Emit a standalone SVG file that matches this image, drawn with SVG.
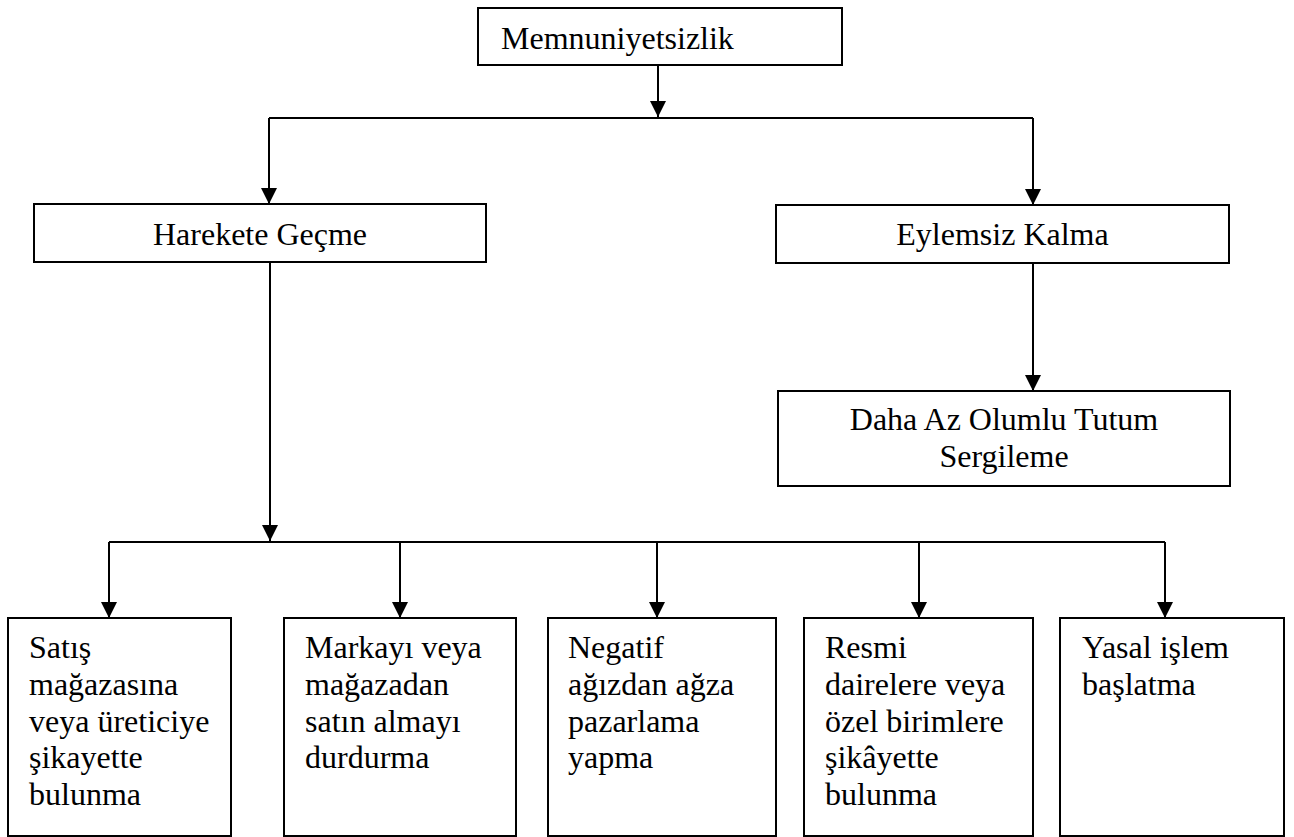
<svg xmlns="http://www.w3.org/2000/svg" width="1294" height="837" viewBox="0 0 1294 837">
  <style>
    .box { fill: #ffffff; stroke: #000000; stroke-width: 2; }
    .lbl { font-size: 32px; fill: #000000; }
    .mid { text-anchor: middle; }
    .wire { fill: none; stroke: #000000; stroke-width: 2; }
    .arrow { fill: none; stroke: #000000; stroke-width: 2; marker-end: url(#head); }
  </style>
  <defs>
    <marker id="head" viewBox="0 0 16 16" refX="16" refY="8" markerWidth="16" markerHeight="16" markerUnits="userSpaceOnUse" orient="auto">
      <path d="M0,0 L16,8 L0,16 Z" fill="#000000"/>
    </marker>
  </defs>
  <rect width="1294" height="837" fill="#ffffff"/>

  <!-- connectors -->
  <g id="connectors">
    <path class="arrow" d="M658,65 V117"/>
    <path class="wire" d="M269,118 H1033"/>
    <path class="arrow" d="M269,118 V204"/>
    <path class="arrow" d="M1033,118 V205"/>
    <path class="arrow" d="M1033,263 V391"/>
    <path class="arrow" d="M270,262 V541"/>
    <path class="wire" d="M109,542 H1165"/>
    <path class="arrow" d="M109,542 V618"/>
    <path class="arrow" d="M400,542 V618"/>
    <path class="arrow" d="M657,542 V618"/>
    <path class="arrow" d="M919,542 V618"/>
    <path class="arrow" d="M1165,542 V618"/>
  </g>

  <g font-family="'Liberation Serif', 'Times New Roman', Tinos, 'DejaVu Serif', serif">
  <!-- top level -->
  <g id="memnuniyetsizlik">
    <rect class="box" x="478" y="8" width="364" height="57"/>
    <text class="lbl" x="501" y="49">Memnuniyetsizlik</text>
  </g>

  <!-- second level -->
  <g id="harekete-gecme">
    <rect class="box" x="34" y="204" width="452" height="58"/>
    <text class="lbl mid" x="260" y="245">Harekete Geçme</text>
  </g>
  <g id="eylemsiz-kalma">
    <rect class="box" x="776" y="205" width="453" height="58"/>
    <text class="lbl mid" x="1002.5" y="245">Eylemsiz Kalma</text>
  </g>
  <g id="daha-az-olumlu">
    <rect class="box" x="778" y="391" width="452" height="95"/>
    <text class="lbl mid" x="1004" y="430">Daha Az Olumlu Tutum</text>
    <text class="lbl mid" x="1004" y="467">Sergileme</text>
  </g>

  <!-- action outcomes -->
  <g id="sikayet-magaza">
    <rect class="box" x="8" y="618" width="223" height="218"/>
    <text class="lbl" x="29" y="658">Satış</text>
    <text class="lbl" x="29" y="695">mağazasına</text>
    <text class="lbl" x="29" y="732">veya üreticiye</text>
    <text class="lbl" x="29" y="768">şikayette</text>
    <text class="lbl" x="29" y="805">bulunma</text>
  </g>
  <g id="satin-almayi-durdurma">
    <rect class="box" x="284" y="618" width="232" height="218"/>
    <text class="lbl" x="305" y="658">Markayı veya</text>
    <text class="lbl" x="305" y="695">mağazadan</text>
    <text class="lbl" x="305" y="732">satın almayı</text>
    <text class="lbl" x="305" y="768">durdurma</text>
  </g>
  <g id="negatif-agizdan-agza">
    <rect class="box" x="548" y="618" width="228" height="218"/>
    <text class="lbl" x="568" y="658">Negatif</text>
    <text class="lbl" x="568" y="695">ağızdan ağza</text>
    <text class="lbl" x="568" y="732">pazarlama</text>
    <text class="lbl" x="568" y="768">yapma</text>
  </g>
  <g id="resmi-sikayet">
    <rect class="box" x="804" y="618" width="229" height="218"/>
    <text class="lbl" x="825" y="658">Resmi</text>
    <text class="lbl" x="825" y="695">dairelere veya</text>
    <text class="lbl" x="825" y="732">özel birimlere</text>
    <text class="lbl" x="825" y="768">şikâyette</text>
    <text class="lbl" x="825" y="805">bulunma</text>
  </g>
  <g id="yasal-islem">
    <rect class="box" x="1060" y="618" width="224" height="218"/>
    <text class="lbl" x="1082" y="658">Yasal işlem</text>
    <text class="lbl" x="1082" y="695">başlatma</text>
  </g>
  </g>
</svg>
